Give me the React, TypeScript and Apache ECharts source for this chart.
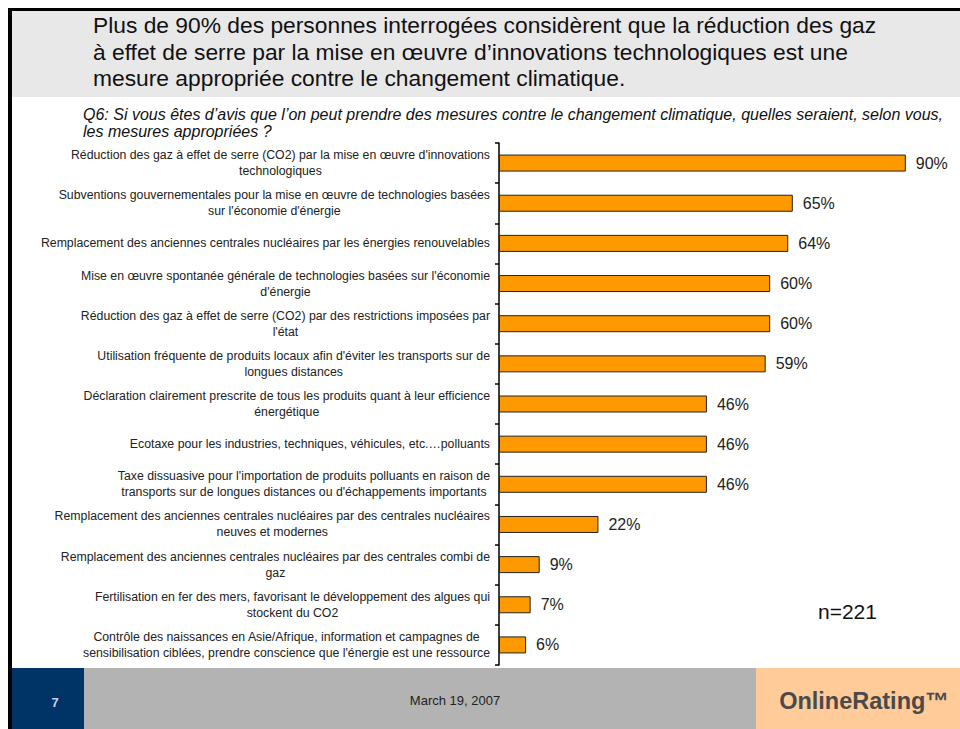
import React, { useEffect, useRef } from "react";
import * as echarts from "echarts";

const categories: string[] = [
  "Réduction des gaz à effet de serre (CO2) par la mise en œuvre d'innovations\ntechnologiques",
  "Subventions gouvernementales pour la mise en œuvre de technologies basées\nsur l'économie d'énergie",
  "Remplacement des anciennes centrales nucléaires par les énergies renouvelables",
  "Mise en œuvre spontanée générale de technologies basées sur l'économie\nd'énergie",
  "Réduction des gaz à effet de serre (CO2) par des restrictions imposées par\nl'état",
  "Utilisation fréquente de produits locaux afin d'éviter les transports sur de\nlongues distances",
  "Déclaration clairement prescrite de tous les produits quant à leur efficience\nénergétique",
  "Ecotaxe pour les industries, techniques, véhicules, etc.…polluants",
  "Taxe dissuasive pour l'importation de produits polluants en raison de\ntransports sur de longues distances ou d'échappements importants",
  "Remplacement des anciennes centrales nucléaires par des centrales nucléaires\nneuves et modernes",
  "Remplacement des anciennes centrales nucléaires par des centrales combi de\ngaz",
  "Fertilisation en fer des mers, favorisant le développement des algues qui\nstockent du CO2",
  "Contrôle des naissances en Asie/Afrique, information et campagnes de\nsensibilisation ciblées, prendre conscience que l'énergie est une ressource",
];

const values: number[] = [90, 65, 64, 60, 60, 59, 46, 46, 46, 22, 9, 7, 6];

const titleLines: string[] = [
  "Plus de 90% des personnes interrogées considèrent que la réduction des gaz",
  "à effet de serre par la mise en œuvre d’innovations technologiques est une",
  "mesure appropriée contre le changement climatique.",
];

const subtitleLines: string[] = [
  "Q6: Si vous êtes d’avis que l’on peut prendre des mesures contre le changement climatique, quelles seraient, selon vous,",
  "les mesures appropriées ?",
];

const sampleNote = "n=221";
const pageNumber = "7";
const dateText = "March 19, 2007";
const brandText = "OnlineRating™";

const FONT = "Liberation Sans, Arial, Helvetica, sans-serif";

export default function App() {
  const ref = useRef<HTMLDivElement>(null);

  useEffect(() => {
    if (!ref.current) return;
    const chart = echarts.init(ref.current, undefined, { renderer: "svg" });

    const option: any = {
      animation: false,
      backgroundColor: "#ffffff",
      textStyle: { fontFamily: FONT },
      grid: { left: 499, right: 9, top: 143, bottom: 64, containLabel: false },
      xAxis: {
        type: "value",
        min: 0,
        max: 100,
        show: false,
      },
      yAxis: {
        type: "category",
        inverse: true,
        data: categories,
        axisLine: { show: true, lineStyle: { color: "#000", width: 1.5 } },
        axisTick: { show: true, length: 4, lineStyle: { color: "#000", width: 1.5 } },
        axisLabel: {
          margin: 9,
          align: "right",
          formatter: (v: string) =>
            v
              .split("\n")
              .map((l) => `{c|${l}}`)
              .join("\n"),
          rich: {
            c: {
              align: "center",
              fontSize: 12.3,
              lineHeight: 16,
              color: "#222",
              fontFamily: FONT,
            },
          },
        },
        splitLine: { show: false },
      },
      series: [
        {
          type: "bar",
          data: values,
          barWidth: 17,
          itemStyle: { color: "#ff9900", borderColor: "#222", borderWidth: 1 },
          label: {
            show: true,
            position: "right",
            distance: 10,
            formatter: "{c}%",
            fontSize: 16,
            color: "#222",
            fontFamily: FONT,
          },
        },
      ],
      graphic: [
        { type: "rect", shape: { x: 12, y: 11, width: 948, height: 86 }, style: { fill: "#e8e8e8" }, z: -10 },
        { type: "rect", shape: { x: 8, y: 8, width: 952, height: 3 }, style: { fill: "#000" }, z: 10 },
        { type: "rect", shape: { x: 8, y: 8, width: 4, height: 721 }, style: { fill: "#000" }, z: 10 },
        ...titleLines.map((t, i) => ({
          type: "text",
          x: 93,
          y: 25 + i * 26.5,
          style: { text: t, fontSize: 22.8, fill: "#111", fontFamily: FONT, verticalAlign: "middle" },
          z: 5,
        })),
        ...subtitleLines.map((t, i) => ({
          type: "text",
          x: 83,
          y: 114 + i * 17,
          style: { text: t, fontSize: 16, fontStyle: "italic", fill: "#111", fontFamily: FONT, verticalAlign: "middle" },
          z: 5,
        })),
        {
          type: "text",
          x: 818,
          y: 611,
          style: { text: sampleNote, fontSize: 21, fill: "#111", fontFamily: FONT, verticalAlign: "middle" },
          z: 5,
        },
        { type: "rect", shape: { x: 12, y: 668, width: 72, height: 61 }, style: { fill: "#003366" }, z: 5 },
        { type: "rect", shape: { x: 84, y: 668, width: 672, height: 61 }, style: { fill: "#b3b3b3" }, z: 5 },
        { type: "rect", shape: { x: 756, y: 668, width: 204, height: 61 }, style: { fill: "#ffcc99" }, z: 5 },
        {
          type: "text",
          x: 55,
          y: 702,
          style: { text: pageNumber, fontSize: 13, fontWeight: "bold", fill: "#c8d0f0", fontFamily: FONT, align: "center", verticalAlign: "middle" },
          z: 6,
        },
        {
          type: "text",
          x: 455,
          y: 700,
          style: { text: dateText, fontSize: 13, fill: "#222", fontFamily: FONT, align: "center", verticalAlign: "middle" },
          z: 6,
        },
        {
          type: "text",
          x: 864,
          y: 701,
          style: { text: brandText, fontSize: 23.5, fontWeight: "bold", fill: "#4a4a4a", fontFamily: FONT, align: "center", verticalAlign: "middle" },
          z: 6,
        },
      ],
    };

    chart.setOption(option);
    return () => chart.dispose();
  }, []);

  return (
    <div
      ref={ref}
      style={{ position: "fixed", left: 0, top: 0, width: 960, height: 729 }}
    />
  );
}
